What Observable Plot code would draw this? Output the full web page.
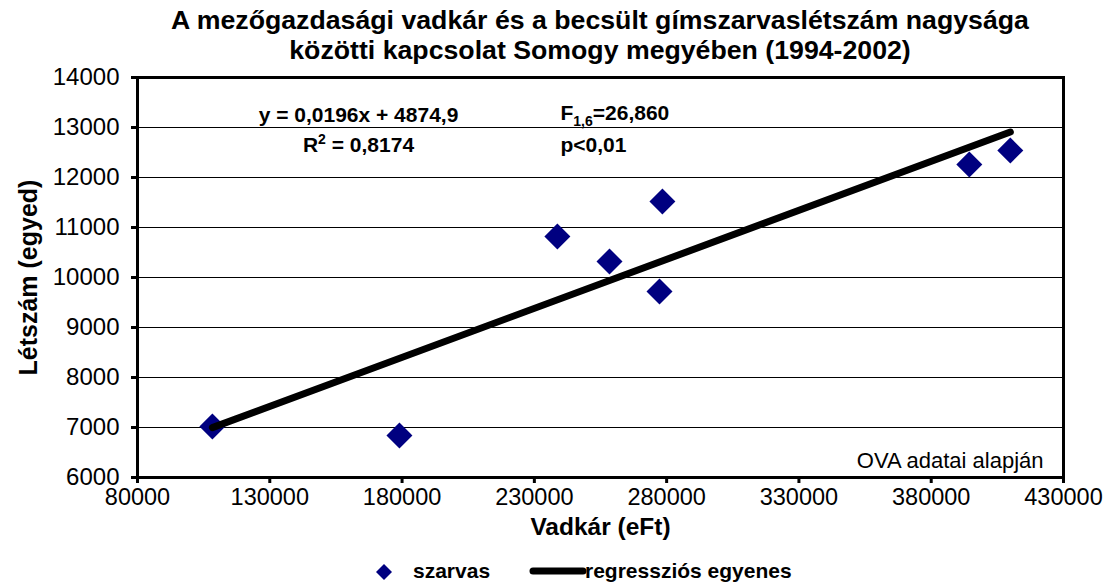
<!DOCTYPE html>
<html>
<head>
<meta charset="utf-8">
<script src="https://cdn.jsdelivr.net/npm/d3@7"></script>
<script src="https://cdn.jsdelivr.net/npm/@observablehq/plot@0.6"></script>
<style>
  html, body { margin: 0; padding: 0; background: #fff; }
  body { font-family: "Liberation Sans", Arial, sans-serif; color: #000; }
  #wrap { position: relative; width: 1114px; height: 588px; overflow: hidden; background: #fff; }
  #title { position: absolute; left: 137px; top: 0; width: 926px; padding-top: 5px; text-align: center;
           font-weight: bold; font-size: 26.7px; line-height: 30px; white-space: nowrap; }
  #chart { position: absolute; left: 0; top: 65px; }
  #legend { position: absolute; left: 0; top: 555px; width: 1114px; height: 32px; font-weight: bold; font-size: 21px; line-height: 32px; }
  #legend > * { position: absolute; }
</style>
</head>
<body>
<div id="wrap">
  <div id="title"></div>
  <div id="chart"></div>
  <div id="legend"></div>
</div>
<script>
// ---- data ----
const vadkar  = [108300, 179000, 238700, 258400, 278400, 277300, 394400, 409900]; // eFt
const letszam = [7020,   6840,   10820,  10320,  11520,  9720,   12260,  12540];  // egyed
const xTicks = [80000, 130000, 180000, 230000, 280000, 330000, 380000, 430000];
const yTicks = [6000, 7000, 8000, 9000, 10000, 11000, 12000, 13000, 14000];
const slope = 0.0196;
const intercept = 4874.9;
const titleLines = ["A mezőgazdasági vadkár és a becsült gímszarvaslétszám nagysága",
                    "közötti kapcsolat Somogy megyében (1994-2002)"];
const xTitle = "Vadkár (eFt)";
const yTitle = "Létszám (egyed)";
const eqText = "y = 0,0196x + 4874,9";
const r2Text = "R2 = 0,8174";
const fText = "F1,6=26,860";
const pText = "p<0,01";
const sourceText = "OVA adatai alapján";
const seriesNames = ["szarvas", "regressziós egyenes"];

// ---- build ----
const points = vadkar.map((v, i) => ({x: v, y: letszam[i]}));
const xmin = d3.min(vadkar), xmax = d3.max(vadkar);
const reg = [xmin, xmax].map(x => ({x, y: slope * x + intercept}));

document.getElementById("title").innerHTML = titleLines.join("<br>");

const chart = Plot.plot({
  width: 1114,
  height: 491,
  marginLeft: 137,
  marginRight: 51,
  marginTop: 12,
  marginBottom: 79,
  style: {fontFamily: '"Liberation Sans", Arial, sans-serif', fontSize: "24px", color: "#000", background: "#fff", overflow: "visible"},
  x: {domain: [80000, 430000]},
  y: {domain: [6000, 14000]},
  marks: [
    Plot.ruleY(yTicks, {stroke: "#000", strokeWidth: 1.2}),
    Plot.frame({stroke: "#000", strokeWidth: 3}),
    Plot.axisX({ticks: xTicks, tickFormat: d3.format("d"), tickSize: 6, tickPadding: 5, strokeWidth: 3, fontSize: 23.5, label: null}),
    Plot.axisY({ticks: yTicks, tickFormat: d3.format("d"), tickSize: 6, tickPadding: 12, strokeWidth: 3, fontSize: 24, label: null}),
    Plot.dot(points, {x: "x", y: "y", symbol: "diamond2", r: 11.7, fill: "#000080", stroke: "none"}),
    Plot.line(reg, {x: "x", y: "y", stroke: "#000", strokeWidth: 7, strokeLinecap: "round"}),
    Plot.text([xTitle], {text: d => d, frameAnchor: "bottom", textAnchor: "middle", lineAnchor: "middle", dy: 50, fontSize: 24.5, fontWeight: "bold"}),
    Plot.text([yTitle], {text: d => d, frameAnchor: "left", textAnchor: "middle", lineAnchor: "middle", dx: -109, rotate: -90, fontSize: 25, fontWeight: "bold"}),
    Plot.text([eqText], {text: d => d, frameAnchor: "top-left", textAnchor: "middle", lineAnchor: "middle", dx: 221, dy: 38, fontSize: 21, fontWeight: "bold"}),
    Plot.text([r2Text], {text: d => d, frameAnchor: "top-left", textAnchor: "middle", lineAnchor: "middle", dx: 221, dy: 68, fontSize: 21, fontWeight: "bold"}),
    Plot.text([fText], {text: d => d, frameAnchor: "top-left", textAnchor: "start", lineAnchor: "middle", dx: 423, dy: 36, fontSize: 21, fontWeight: "bold"}),
    Plot.text([pText], {text: d => d, frameAnchor: "top-left", textAnchor: "start", lineAnchor: "middle", dx: 423, dy: 68, fontSize: 21, fontWeight: "bold"}),
    Plot.text([sourceText], {text: d => d, frameAnchor: "bottom-right", textAnchor: "end", lineAnchor: "middle", dx: -20, dy: -17, fontSize: 22})
  ]
});
document.getElementById("chart").appendChild(chart);

// superscript / subscript
const NS = "http://www.w3.org/2000/svg";
chart.querySelectorAll("text").forEach(t => {
  if (t.textContent === r2Text) {
    t.textContent = "R";
    const s = document.createElementNS(NS, "tspan"); s.setAttribute("dy", "-8"); s.setAttribute("font-size", "14"); s.textContent = "2";
    const r = document.createElementNS(NS, "tspan"); r.setAttribute("dy", "8"); r.textContent = " = 0,8174";
    t.appendChild(s); t.appendChild(r);
  } else if (t.textContent === fText) {
    t.textContent = "F";
    const s = document.createElementNS(NS, "tspan"); s.setAttribute("dy", "6"); s.setAttribute("font-size", "14"); s.textContent = "1,6";
    const r = document.createElementNS(NS, "tspan"); r.setAttribute("dy", "-6"); r.textContent = "=26,860";
    t.appendChild(s); t.appendChild(r);
  }
});

// legend
const legend = document.getElementById("legend");
legend.innerHTML =
  `<svg style="left:375px;top:8px" width="18" height="18"><path d="M9,1L17,9L9,17L1,9Z" fill="#000080"/></svg>` +
  `<span style="left:413px;top:0">${seriesNames[0]}</span>` +
  `<svg style="left:527px;top:10px" width="62" height="12"><line x1="6" y1="6" x2="56" y2="6" stroke="#000" stroke-width="7" stroke-linecap="round"/></svg>` +
  `<span style="left:585px;top:0">${seriesNames[1]}</span>`;
</script>
</body>
</html>
